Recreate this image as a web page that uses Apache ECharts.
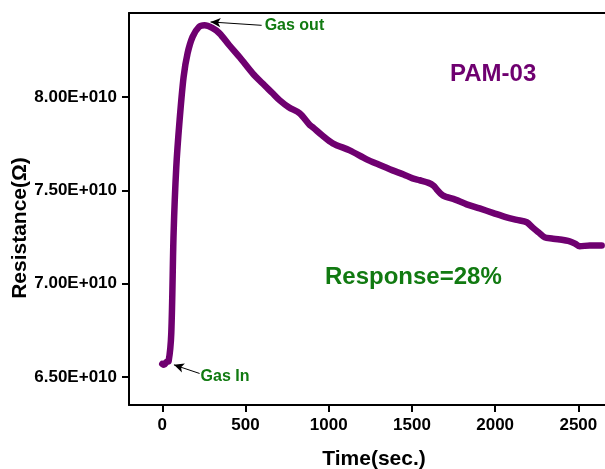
<!DOCTYPE html>
<html>
<head>
<meta charset="utf-8">
<script src="https://cdn.jsdelivr.net/npm/echarts@6/dist/echarts.min.js"></script>
<style>html,body{margin:0;padding:0;background:#fff}#c{width:605px;height:469px}</style>
</head>
<body>
<div id="c"></div>
<script>
const timeSec = [0, 10, 25, 38, 54, 68, 84, 104, 128, 152, 182, 220, 254, 300, 344, 400, 465, 543, 600, 663, 706, 760, 825, 886, 904, 960, 1024, 1126, 1228, 1300, 1384, 1450, 1504, 1547, 1600, 1630, 1649, 1685, 1760, 1829, 1907, 1990, 2069, 2130, 2190, 2226, 2260, 2298, 2340, 2388, 2448, 2480, 2508, 2568, 2640];
const resistance = [6.570e10, 6.565e10, 6.580e10, 6.584e10, 6.734e10, 7.270e10, 7.623e10, 7.875e10, 8.107e10, 8.234e10, 8.322e10, 8.375e10, 8.384e10, 8.370e10, 8.341e10, 8.280e10, 8.213e10, 8.127e10, 8.075e10, 8.020e10, 7.982e10, 7.945e10, 7.913e10, 7.850e10, 7.838e10, 7.795e10, 7.752e10, 7.714e10, 7.666e10, 7.638e10, 7.607e10, 7.585e10, 7.564e10, 7.554e10, 7.540e10, 7.525e10, 7.505e10, 7.473e10, 7.450e10, 7.425e10, 7.403e10, 7.378e10, 7.355e10, 7.342e10, 7.329e10, 7.300e10, 7.275e10, 7.248e10, 7.242e10, 7.237e10, 7.227e10, 7.215e10, 7.200e10, 7.205e10, 7.205e10];
const xTicks = [0, 500, 1000, 1500, 2000, 2500];
const yTicks = [6.5e10, 7.0e10, 7.5e10, 8.0e10];
const seriesName = 'PAM-03';
const responseText = 'Response=28%';
const gasOutArrow = [[597, 8.384e10], [290, 8.402e10]];
const gasInArrow = [[224, 6.519e10], [70, 6.565e10]];

const purple = '#6f0070';
const green = '#117a11';
const FONT = '"Liberation Sans", Arial, sans-serif';

const chart = echarts.init(document.getElementById('c'), null, {renderer: 'canvas'});
const data = timeSec.map((t, i) => [t, resistance[i]]);

chart.setOption({
  animation: false,
  backgroundColor: '#fff',
  textStyle: {fontFamily: FONT},
  grid: {left: 129, right: 0, top: 13, bottom: 64, containLabel: false, outerBoundsMode: 'none'},
  xAxis: [{
    type: 'value', min: -200, max: 2660, position: 'bottom',
    name: 'Time(sec.)', nameLocation: 'middle', nameGap: 44, nameMoveOverlap: false,
    nameTextStyle: {fontFamily: FONT, fontWeight: 'bold', fontSize: 21, color: '#000', padding: [0, 0, 0, 14]},
    axisLine: {show: true, onZero: false, lineStyle: {color: '#000', width: 2}},
    axisTick: {show: true, inside: false, length: 7, customValues: xTicks, lineStyle: {color: '#000', width: 2}},
    axisLabel: {customValues: xTicks, fontFamily: FONT, fontWeight: 'bold', fontSize: 17, color: '#000', margin: 12,
      formatter: v => String(v)},
    splitLine: {show: false}
  }, {
    type: 'value', min: -200, max: 2660, position: 'top',
    axisLine: {show: true, onZero: false, lineStyle: {color: '#000', width: 2}},
    axisTick: {show: false}, axisLabel: {show: false}, splitLine: {show: false}
  }],
  yAxis: [{
    type: 'value', min: 6.35e10, max: 8.45e10,
    name: 'Resistance(Ω)', nameLocation: 'middle', nameGap: 98, nameRotate: 90, nameMoveOverlap: false,
    nameTextStyle: {fontFamily: FONT, fontWeight: 'bold', fontSize: 21, color: '#000', padding: [0, 38, 0, 0]},
    axisLine: {show: true, onZero: false, lineStyle: {color: '#000', width: 2}},
    axisTick: {show: true, inside: false, length: 7, customValues: yTicks, lineStyle: {color: '#000', width: 2}},
    axisLabel: {customValues: yTicks, fontFamily: FONT, fontWeight: 'bold', fontSize: 17, color: '#000', margin: 12,
      formatter: v => (v / 1e10).toFixed(2) + 'E+010'},
    splitLine: {show: false}
  }],
  series: [{
    name: seriesName, type: 'line', data: data, showSymbol: false, smooth: 0.3,
    lineStyle: {color: purple, width: 6.5, cap: 'round', join: 'round'},
    markLine: {
      silent: true, symbol: ['none', 'arrow'], symbolSize: [7, 10],
      lineStyle: {color: '#000', width: 1, type: 'solid'},
      label: {show: false},
      data: [
        [{coord: gasOutArrow[0]}, {coord: gasOutArrow[1]}],
        [{coord: gasInArrow[0]}, {coord: gasInArrow[1]}]
      ]
    },
    markPoint: {
      silent: true, symbol: 'circle', symbolSize: 0,
      data: [
        {coord: gasOutArrow[0], label: {show: true, formatter: 'Gas out', position: 'right', distance: 3, color: green, fontWeight: 'bold', fontSize: 16, fontFamily: FONT}},
        {coord: gasInArrow[0], label: {show: true, formatter: 'Gas In', position: 'right', distance: 1, offset: [0, 3], color: green, fontWeight: 'bold', fontSize: 16, fontFamily: FONT}}
      ]
    }
  }],
  graphic: [
    {type: 'text', left: 450, top: 62, style: {text: seriesName, fill: purple, font: 'bold 24px ' + FONT}},
    {type: 'text', left: 325, top: 265, style: {text: responseText, fill: green, font: 'bold 24px ' + FONT}}
  ]
});
</script>
</body>
</html>
